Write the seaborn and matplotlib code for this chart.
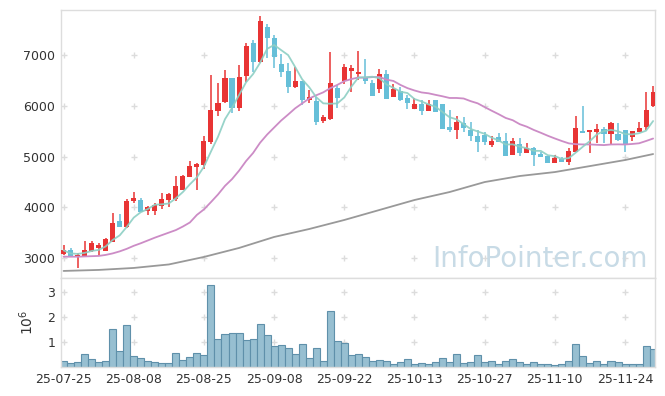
import numpy as np
import pandas as pd
import matplotlib
matplotlib.use('Agg')
import matplotlib.pyplot as plt
import seaborn as sns

# ---- data ----
opens = [3080, 3160, 3015, 3045, 3140, 3205, 3145, 3320, 3735, 3620,
         4125, 4145, 3930, 3935, 4030, 4140, 4155, 4340, 4600, 4800,
         4830, 5280, 5900, 6080, 6555, 5960, 6590, 7240, 6870, 7560,
         7340, 6815, 6685, 6375, 6490, 6115, 6100, 5705, 5740, 6345,
         6495, 6690, 6625, 6560, 6455, 6330, 6625, 6180, 6290, 6145,
         5935, 6035, 5900, 6115, 6035, 5585, 5520, 5670, 5520, 5410,
         5425, 5225, 5380, 5305, 5030, 5240, 5075, 5160, 5050, 5010,
         4880, 4945, 4900, 5095, 5500, 5490, 5490, 5535, 5445, 5445,
         5520, 5390, 5490, 5575, 5995]
closes = [3150, 3030, 3060, 3160, 3290, 3255, 3375, 3695, 3615, 4120,
          4175, 3910, 4000, 4045, 4160, 4260, 4420, 4615, 4810, 4850,
          5305, 5915, 6060, 6555, 5960, 6570, 7175, 6870, 7670, 7330,
          6955, 6670, 6375, 6495, 6115, 6180, 5685, 5770, 6455, 6145,
          6770, 6745, 6670, 6490, 6195, 6625, 6135, 6325, 6115, 6060,
          6035, 5895, 6035, 5885, 5540, 5520, 5685, 5565, 5410, 5290,
          5290, 5305, 5290, 5010, 5305, 5060, 5160, 5030, 5000, 4880,
          4965, 4885, 5115, 5555, 5455, 5520, 5540, 5445, 5665, 5325,
          5245, 5500, 5565, 5915, 6275]
highs = [3250, 3190, 3095, 3330, 3330, 3300, 3390, 3880, 3870, 4160,
         4300, 4180, 4030, 4090, 4275, 4290, 4620, 4635, 4910, 4880,
         5400, 6605, 6455, 6705, 6555, 6800, 7230, 7295, 7765, 7605,
         7395, 7015, 6835, 6770, 6490, 6310, 6165, 5815, 7060, 6410,
         6820, 6800, 7080, 6915, 6505, 6735, 6705, 6440, 6375, 6210,
         6160, 6115, 6115, 6115, 6035, 5915, 5800, 5785, 5685, 5520,
         5490, 5410, 5455, 5455, 5360, 5370, 5260, 5180, 5095, 5020,
         5030, 4985, 5160, 5800, 5995, 5525, 5640, 5585, 5685, 5655,
         5525, 5510, 5685, 6275, 6390]
lows = [3060, 3010, 2800, 3040, 3120, 3030, 3140, 3320, 3615, 3590,
        4080, 3905, 3850, 3850, 3965, 4010, 4130, 4340, 4595, 4340,
        4750, 5240, 5800, 6050, 5850, 5900, 6475, 6670, 6835, 6935,
        6740, 6570, 6245, 6345, 6015, 6060, 5620, 5655, 5720, 5950,
        6430, 6280, 6505, 6440, 6195, 6245, 6135, 6180, 6100, 5930,
        5935, 5815, 5900, 5880, 5540, 5490, 5340, 5490, 5310, 5095,
        5225, 5195, 5285, 5005, 5025, 5010, 5070, 4810, 4995, 4865,
        4865, 4885, 4830, 5095, 5455, 5060, 5270, 5260, 5225, 5315,
        5095, 5310, 5485, 5520, 5970]
volumes = [240000, 160000, 200000, 520000, 320000, 200000, 240000, 1530000, 640000, 1690000,
           440000, 360000, 240000, 200000, 160000, 160000, 560000, 290000, 400000, 560000,
           480000, 3270000, 1120000, 1340000, 1370000, 1370000, 1080000, 1120000, 1730000, 1290000,
           840000, 880000, 760000, 520000, 920000, 360000, 760000, 240000, 2250000, 1050000,
           980000, 480000, 520000, 400000, 250000, 290000, 250000, 120000, 200000, 320000,
           120000, 160000, 120000, 200000, 360000, 200000, 520000, 160000, 200000, 480000,
           200000, 240000, 120000, 240000, 320000, 200000, 120000, 200000, 120000, 120000,
           80000, 120000, 240000, 940000, 440000, 160000, 240000, 120000, 240000, 200000,
           120000, 120000, 120000, 840000, 720000]

# 20-day average before enough history is on screen
ma20_head = [3025, 3025, 3025, 3030, 3035, 3040, 3060, 3090, 3130, 3180,
             3240, 3290, 3345, 3400, 3450, 3500, 3550, 3620, 3700]
# long moving average (gray), read every 5 bars
ma_long_idx = [0, 5, 10, 15, 20, 25, 30, 35, 40, 45, 50, 55, 60, 65, 70, 75, 80, 84]
ma_long = [2744, 2764, 2803, 2872, 3020, 3197, 3414, 3571, 3749, 3946,
           4143, 4300, 4497, 4616, 4694, 4812, 4931, 5049]

tick_labels = ['25-07-25', '25-08-08', '25-08-25', '25-09-08', '25-09-22',
               '25-10-13', '25-10-27', '25-11-10', '25-11-24']
price_ticks = [3000, 4000, 5000, 6000, 7000]
vol_ticks = [1, 2, 3]

# ---- derived ----
df = pd.DataFrame({'open': opens, 'close': closes, 'high': highs,
                   'low': lows, 'volume': volumes})
df['i'] = np.arange(len(df))
df['ma5'] = df['close'].rolling(5, min_periods=1).mean()
ma20 = df['close'].rolling(20).mean()
ma20.iloc[:len(ma20_head)] = ma20_head
df['ma20'] = ma20
df['vol_m'] = df['volume'] / 1e6
up = df['close'] >= df['open']
RED, BLUE = '#e83434', '#66bfd8'
colors = np.where(up, RED, BLUE)

sns.set_style('white')
plt.rcParams['font.family'] = ['DejaVu Sans']
text_col = '#333333'
grid_col = '#dcdcdc'

fig = plt.figure(figsize=(6.65, 3.96), dpi=100)
ax1 = fig.add_axes([0.0917, 0.298, 0.894, 0.6768])
ax2 = fig.add_axes([0.0917, 0.0732, 0.894, 0.2248], sharex=ax1)

# candles
ax1.vlines(df['i'], df['low'], df['high'], color=colors, linewidth=1.1, zorder=2)
body_lo = np.minimum(df['open'], df['close'])
body_h = np.maximum(np.abs(df['close'] - df['open']), 12)
ax1.bar(df['i'], body_h, bottom=body_lo, width=0.72, color=colors, linewidth=0, zorder=3)

# moving averages
sns.lineplot(x=ma_long_idx, y=ma_long, ax=ax1, color='#999999', linewidth=1.3, zorder=4)
sns.lineplot(data=df, x='i', y='ma20', ax=ax1, color='#cc8cc6', linewidth=1.3, zorder=4)
sns.lineplot(data=df, x='i', y='ma5', ax=ax1, color='#8dcfc4', linewidth=1.3, zorder=4, alpha=0.9)

ax1.text(0.987, 0.041, 'InfoPointer.com', transform=ax1.transAxes, ha='right',
         va='baseline', fontsize=20, color='#c8dbe6', zorder=1)

# volume
sns.barplot(data=df, x='i', y='vol_m', ax=ax2, native_scale=True, width=1.0,
            color='#97bfd1', edgecolor='#5f90aa', linewidth=0.8, saturation=1)

xt = list(range(0, len(df), 10))
ax1.set_xlim(-0.37, len(df) - 1 + 0.34)
ax1.set_ylim(2605, 7890)
ax2.set_ylim(0, 3.57)
ax1.set_yticks(price_ticks)
ax2.set_yticks(vol_ticks)
ax2.set_xticks(xt)
ax2.set_xticklabels(tick_labels)
ax1.tick_params(axis='x', labelbottom=False)

# cross-shaped grid marks at tick intersections
gx, gy = np.meshgrid(xt, price_ticks)
ax1.plot(gx.ravel(), gy.ravel(), '+', color=grid_col, markersize=5, mew=1, zorder=0)
gx, gy = np.meshgrid(xt, vol_ticks)
ax2.plot(gx.ravel(), gy.ravel(), '+', color=grid_col, markersize=5, mew=1, zorder=0)

for ax in (ax1, ax2):
    ax.set_xlabel('')
    ax.set_ylabel('')
    for s in ax.spines.values():
        s.set_color('#dddddd')
        s.set_linewidth(1)
    ax.tick_params(length=0, labelsize=9, colors=text_col, pad=4)

ax2.set_ylabel(r'$10^6$', fontsize=10, color=text_col, labelpad=8)

fig.savefig('out.png', dpi=100)
